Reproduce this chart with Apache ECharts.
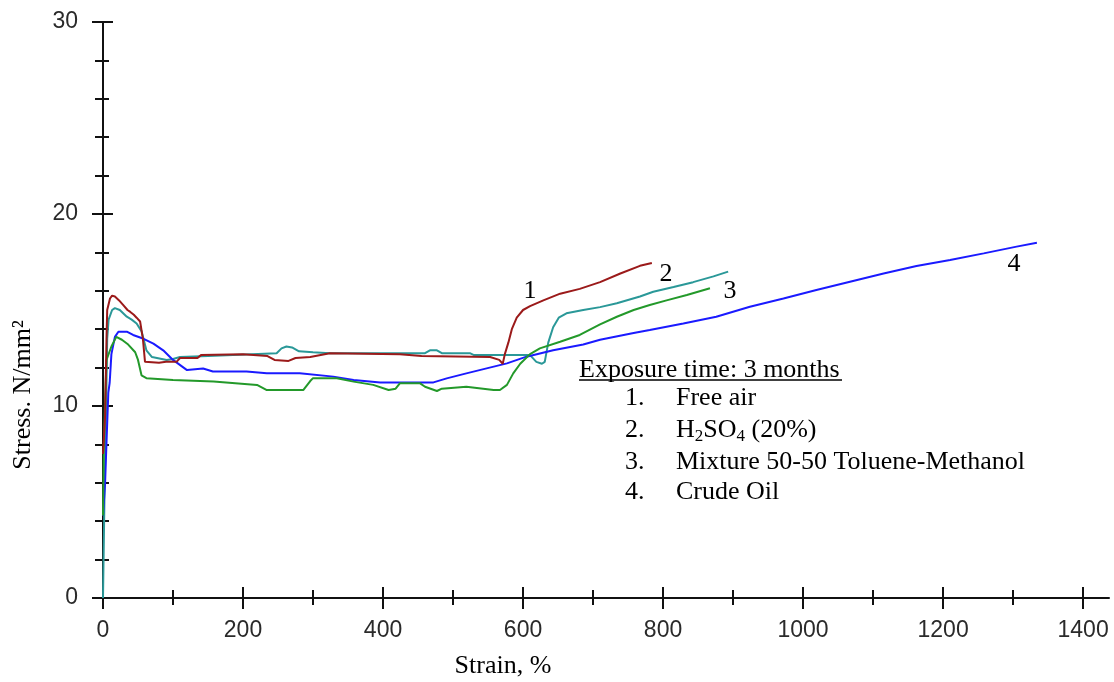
<!DOCTYPE html>
<html>
<head>
<meta charset="utf-8">
<title>Stress - strain, 3 months exposure</title>
<script src="https://cdn.jsdelivr.net/npm/echarts@6.0.0/dist/echarts.min.js"></script>
<style>
  html, body { margin: 0; padding: 0; background: #fff; }
  #chart { width: 1114px; height: 682px; }
</style>
</head>
<body>
<div id="chart"></div>
<script>
  // 1. Free air
  var freeAirStrain = [0, 3, 5, 6, 10, 13, 17, 23, 29, 35, 39, 44, 48, 53, 57, 60, 62, 80, 90, 105, 110, 135, 140, 200, 235, 245, 265, 275, 296, 324, 424, 455, 553, 566, 571, 574, 579, 584, 591, 600, 610, 629, 653, 681, 710, 739, 767, 784];
  var freeAirStress = [7.5, 9.5, 13.5, 15.0, 15.6, 15.75, 15.7, 15.5, 15.25, 15.0, 14.9, 14.75, 14.6, 14.4, 13.5, 12.3, 12.2, 12.25, 12.3, 12.3, 12.5, 12.5, 12.65, 12.7, 12.6, 12.4, 12.35, 12.5, 12.55, 12.75, 12.7, 12.6, 12.55, 12.4, 12.2, 12.7, 13.3, 14.0, 14.6, 15.0, 15.2, 15.5, 15.85, 16.1, 16.45, 16.9, 17.3, 17.45];

  // 2. H2SO4 (20%)
  var acidStrain = [0, 2, 4, 6, 8, 13, 17, 24, 34, 41, 48, 55, 62, 70, 91, 100, 110, 150, 248, 255, 262, 270, 280, 300, 324, 460, 467, 477, 484, 524, 530, 610, 619, 627, 631, 636, 643, 651, 662, 686, 710, 734, 767, 786, 815, 843, 872, 893];
  var acidStress = [0, 5, 9, 13.5, 14.5, 15.0, 15.1, 15.0, 14.65, 14.5, 14.3, 13.9, 12.9, 12.55, 12.4, 12.45, 12.55, 12.6, 12.75, 13.0, 13.1, 13.05, 12.85, 12.8, 12.75, 12.75, 12.9, 12.9, 12.75, 12.75, 12.65, 12.65, 12.3, 12.2, 12.3, 13.3, 14.1, 14.6, 14.83, 15.0, 15.15, 15.35, 15.7, 15.95, 16.2, 16.45, 16.75, 17.0];

  // 3. Mixture 50-50 Toluene-Methanol
  var mixStrain = [0, 1, 3, 5, 12, 19, 27, 36, 46, 50, 55, 62, 100, 158, 220, 234, 286, 296, 300, 334, 358, 386, 408, 418, 424, 453, 460, 477, 484, 519, 558, 567, 577, 586, 596, 610, 624, 653, 681, 710, 734, 758, 781, 805, 834, 867];
  var mixStress = [4.3, 7.5, 10.3, 12.4, 13.1, 13.6, 13.45, 13.2, 12.8, 12.4, 11.6, 11.45, 11.35, 11.27, 11.1, 10.83, 10.83, 11.3, 11.45, 11.45, 11.27, 11.1, 10.83, 10.9, 11.18, 11.18, 11.0, 10.78, 10.9, 11.0, 10.83, 10.83, 11.1, 11.7, 12.2, 12.7, 13.0, 13.35, 13.7, 14.25, 14.65, 15.0, 15.26, 15.5, 15.78, 16.13];

  // 4. Crude oil
  var crudeStrain = [0, 3, 5, 7.6, 9.5, 12, 17, 22, 34, 43, 58, 72, 86, 100, 120, 143, 157, 205, 234, 281, 329, 358, 396, 472, 491, 519, 548, 577, 605, 643, 686, 710, 758, 781, 829, 876, 924, 972, 1019, 1067, 1115, 1162, 1210, 1258, 1305, 1334];
  var crudeStress = [4.3, 6, 8.1, 10.7, 11.2, 12.7, 13.6, 13.87, 13.87, 13.7, 13.5, 13.25, 12.9, 12.4, 11.87, 11.95, 11.8, 11.8, 11.7, 11.7, 11.53, 11.35, 11.23, 11.23, 11.44, 11.7, 11.96, 12.22, 12.57, 12.9, 13.2, 13.45, 13.8, 13.96, 14.3, 14.65, 15.17, 15.6, 16.04, 16.47, 16.9, 17.29, 17.6, 17.95, 18.3, 18.5];

  var xMajorTicks = [0, 200, 400, 600, 800, 1000, 1200, 1400];
  var xMinorTicks = [100, 300, 500, 700, 900, 1100, 1300];
  var yMajorTicks = [0, 10, 20, 30];
  var yMinorTicks = [2, 4, 6, 8, 12, 14, 16, 18, 22, 24, 26, 28];

  function pairs(xs, ys) {
    return xs.map(function (x, i) { return [x, ys[i]]; });
  }

  var serif = '"Liberation Serif", "Times New Roman", serif';
  var sans = '"Liberation Sans", Arial, sans-serif';
  var ink = '#111';

  // several axes share one line so that the ticks cross it
  function axisOf(dim, ticks, len, inside, main) {
    var isX = dim === 'x';
    return {
      type: 'value', min: 0, max: isX ? 1437 : 30,
      position: isX ? 'bottom' : 'left',
      axisLine: { show: main, onZero: false, lineStyle: { color: ink, width: 2 } },
      axisTick: { show: true, inside: inside, length: len, customValues: ticks, lineStyle: { color: ink, width: 2 } },
      axisLabel: main ? {
        show: true, customValues: ticks, margin: isX ? 21 : 25,
        color: '#2a2a2a', fontFamily: sans, fontSize: 23,
        formatter: function (v) { return String(v); }
      } : { show: false },
      splitLine: { show: false }
    };
  }

  function curve(name, xs, ys, color) {
    return {
      name: name, type: 'line', data: pairs(xs, ys),
      showSymbol: false, symbol: 'none',
      lineStyle: { color: color, width: 2 },
      itemStyle: { color: color },
      animation: false
    };
  }

  function label(txt, x, y, extra) {
    var style = { text: txt, font: '26px ' + serif, fill: '#000', verticalAlign: 'middle' };
    for (var k in extra) style[k] = extra[k];
    return { type: 'text', x: x, y: y, style: style };
  }

  var chart = echarts.init(document.getElementById('chart'));
  chart.setOption({
    animation: false,
    grid: { left: 103, right: 5, top: 22, bottom: 84, containLabel: false, outerBoundsMode: 'none' },
    xAxis: [
      axisOf('x', xMajorTicks, 11, false, true),
      axisOf('x', xMajorTicks, 11, true, false),
      axisOf('x', xMinorTicks, 7, false, false),
      axisOf('x', xMinorTicks, 8, true, false)
    ],
    yAxis: [
      axisOf('y', yMajorTicks, 11, false, true),
      axisOf('y', yMajorTicks, 10, true, false),
      axisOf('y', yMinorTicks, 8, false, false),
      axisOf('y', yMinorTicks, 6, true, false)
    ],
    series: [
      curve('H2SO4 (20%)', acidStrain, acidStress, '#2a9898'),
      curve('Crude Oil', crudeStrain, crudeStress, '#1a1aff'),
      curve('Mixture 50-50 Toluene-Methanol', mixStrain, mixStress, '#23992a'),
      curve('Free air', freeAirStrain, freeAirStress, '#9b1a1a')
    ],
    graphic: [
      // axis titles
      label('Strain, %', 503, 666, { align: 'center' }),
      { type: 'text', x: 23, y: 395, rotation: Math.PI / 2, style: { text: 'Stress. N/mm²', font: '26px ' + serif, fill: '#000', align: 'center', verticalAlign: 'middle' } },
      // curve numbers
      label('1', 530, 291, { align: 'center' }),
      label('2', 666, 274, { align: 'center' }),
      label('3', 730, 291, { align: 'center' }),
      label('4', 1014, 264, { align: 'center' }),
      // legend block
      label('Exposure time: 3 months', 579, 370),
      { type: 'line', shape: { x1: 579, y1: 380, x2: 842, y2: 380 }, style: { stroke: '#000', lineWidth: 1.5 } },
      label('1.', 625, 398),
      label('Free air', 676, 398),
      label('2.', 625, 430),
      label('H{sub|2}SO{sub|4} (20%)', 676, 430, {
        lineHeight: 30,
        rich: { sub: { fontFamily: serif, fontSize: 17, lineHeight: 17, verticalAlign: 'bottom', fill: '#000' } }
      }),
      label('3.', 625, 462),
      label('Mixture 50-50 Toluene-Methanol', 676, 462),
      label('4.', 625, 492),
      label('Crude Oil', 676, 492)
    ]
  });
</script>
</body>
</html>
